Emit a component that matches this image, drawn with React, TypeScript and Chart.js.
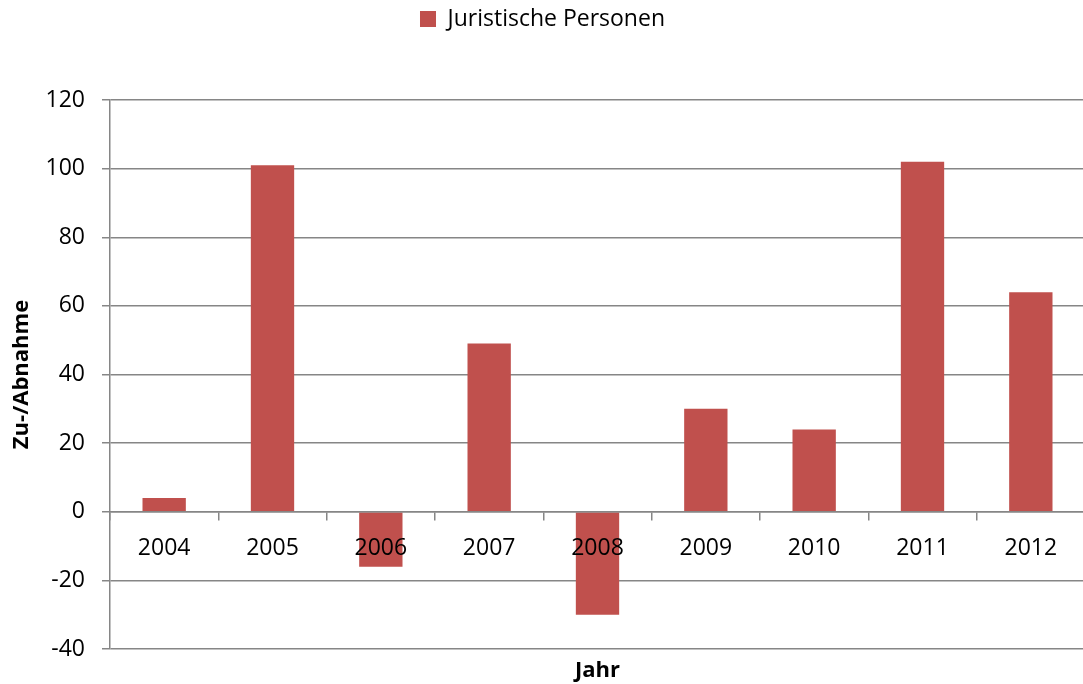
import React, { useEffect, useRef } from "react";
import { Chart, registerables } from "chart.js";

Chart.register(...registerables);

const years = ["2004", "2005", "2006", "2007", "2008", "2009", "2010", "2011", "2012"];
const juristischePersonen = [4, 101, -16, 49, -30, 30, 24, 102, 64];
const seriesLabel = "Juristische Personen";
const yTitle = "Zu-/Abnahme";
const xTitle = "Jahr";
const yMin = -40;
const yMax = 120;
const yStep = 20;

const GRID = "#868686";
const BAR = "#C0504D";

export default function App() {
  const ref = useRef<HTMLCanvasElement | null>(null);

  useEffect(() => {
    if (!ref.current) return;
    Chart.defaults.font.family = "'Open Sans', sans-serif";
    const chart = new Chart(ref.current, {
      type: "bar",
      data: {
        labels: years,
        datasets: [
          {
            label: seriesLabel,
            data: juristischePersonen,
            backgroundColor: BAR,
            borderWidth: 0,
            categoryPercentage: 1,
            barPercentage: 0.4,
          },
        ],
      },
      options: {
        animation: false,
        responsive: true,
        maintainAspectRatio: false,
        layout: { padding: { top: 0, left: 0, right: 1, bottom: 0 } },
        plugins: {
          tooltip: { enabled: false },
          legend: {
            display: true,
            position: "top",
            labels: {
              color: "#000",
              font: { size: 23 },
              boxWidth: 16,
              boxHeight: 16,
              padding: 7.5,
            },
          },
          title: {
            display: true,
            text: " ",
            position: "top",
            weight: 500,
            padding: 0,
            font: { size: 59.5, lineHeight: 1 },
          },
        },
        scales: {
          x: {
            type: "category",
            position: { y: 0 } as any,
            offset: true,
            grid: {
              display: true,
              drawOnChartArea: false,
              drawTicks: true,
              tickLength: 8,
              color: GRID,
              lineWidth: 1.5,
              offset: true,
              z: 1,
            },
            border: { display: true, color: GRID, width: 1.5, z: 1 },
            ticks: {
              color: "#000",
              font: { size: 23 },
              padding: 15,
              maxRotation: 0,
              autoSkip: false,
              z: 2,
            },
          },
          x2: {
            type: "category",
            position: "bottom",
            labels: years,
            grid: { display: false, drawTicks: false },
            border: { display: false },
            ticks: { display: false },
            title: {
              display: true,
              text: xTitle,
              color: "#000",
              font: { size: 22, weight: "bold" },
              padding: { top: 5, bottom: 0 },
            },
            afterFit: (s: any) => {
              s.height = 35;
            },
          },
          y: {
            type: "linear",
            position: "left",
            min: yMin,
            max: yMax,
            ticks: {
              stepSize: yStep,
              color: "#000",
              font: { size: 23 },
              padding: 17,
            },
            grid: {
              color: GRID,
              lineWidth: 1.5,
              tickLength: 8,
              drawTicks: true,
            },
            border: { display: true, color: GRID, width: 1.5 },
            title: {
              display: true,
              text: yTitle,
              color: "#000",
              font: { size: 22, weight: "bold" },
              padding: { top: 8.8, bottom: 0 },
            },
            afterFit: (s: any) => {
              s.width = 110;
            },
          },
        },
      },
    });
    return () => chart.destroy();
  }, []);

  return (
    <div
      style={{
        position: "fixed",
        left: 0,
        top: 0,
        width: 1083,
        height: 684,
        overflow: "hidden",
        background: "#fff",
      }}
    >
      <div style={{ position: "relative", width: 1086, height: 684 }}>
        <canvas ref={ref} />
      </div>
    </div>
  );
}
